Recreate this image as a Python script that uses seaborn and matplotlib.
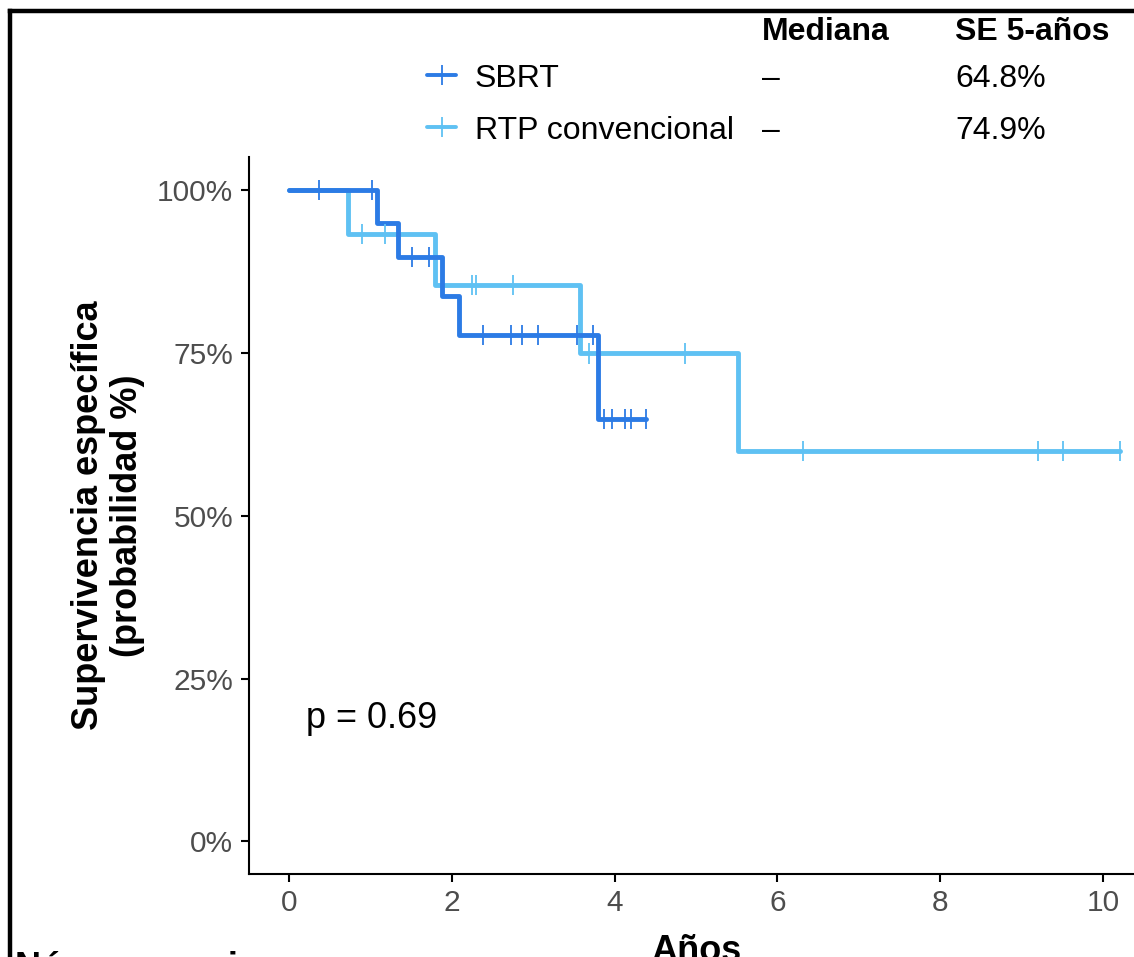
import numpy as np
import pandas as pd
import matplotlib
matplotlib.use('Agg')
import matplotlib.pyplot as plt
from matplotlib.lines import Line2D
import seaborn as sns

# Kaplan-Meier curves (time in years, survival in %)
groups = ['SBRT', 'RTP convencional']
colors = {'SBRT': '#2c7be5', 'RTP convencional': '#5fc1f3'}

sbrt_time = [0, 1.08, 1.34, 1.88, 2.09, 3.79, 4.38]
sbrt_surv = [100, 95.0, 89.7, 83.7, 77.8, 64.8, 64.8]
sbrt_cens = [0.37, 1.02, 1.51, 1.72, 2.38, 2.73, 2.86, 3.06, 3.54, 3.74,
             3.87, 3.97, 4.13, 4.20, 4.38]

rtp_time = [0, 0.72, 1.79, 3.58, 5.52, 10.21]
rtp_surv = [100, 93.3, 85.4, 74.9, 59.9, 59.9]
rtp_cens = [0.90, 1.18, 2.25, 2.30, 2.75, 3.68, 4.86, 6.32, 9.20, 9.51, 10.21]

medianas = ['–', '–']
se_5 = ['64.8%', '74.9%']
p_label = 'p = 0.69'
yticks = [0, 25, 50, 75, 100]
xticks = [0, 2, 4, 6, 8, 10]


def step_value(times, surv, t):
    idx = np.searchsorted(times, t, side='right') - 1
    return np.asarray(surv)[idx]


curves = pd.concat([
    pd.DataFrame({'time': sbrt_time, 'surv': sbrt_surv, 'group': 'SBRT'}),
    pd.DataFrame({'time': rtp_time, 'surv': rtp_surv, 'group': 'RTP convencional'}),
])
cens = pd.concat([
    pd.DataFrame({'time': sbrt_cens, 'surv': step_value(sbrt_time, sbrt_surv, sbrt_cens), 'group': 'SBRT'}),
    pd.DataFrame({'time': rtp_cens, 'surv': step_value(rtp_time, rtp_surv, rtp_cens), 'group': 'RTP convencional'}),
])

sns.set_style('white')
plt.rcParams['font.family'] = ['Liberation Sans', 'DejaVu Sans']
plt.rcParams['text.color'] = 'black'
plt.rcParams['axes.labelcolor'] = 'black'

W, H = 1134, 957
fig = plt.figure(figsize=(W / 100, H / 100), dpi=100)
ax = fig.add_axes([248.5 / W, (H - 874) / H, 895 / W, 716.6 / H])

draw_order = ['RTP convencional', 'SBRT']
sns.lineplot(data=curves, x='time', y='surv', hue='group', hue_order=draw_order,
             palette=colors, drawstyle='steps-post', linewidth=3.5,
             estimator=None, legend=False, ax=ax)
sns.scatterplot(data=cens, x='time', y='surv', hue='group', hue_order=draw_order,
                palette=colors, marker='|', s=210, linewidth=1.3,
                legend=False, ax=ax, zorder=3)

ax.set_xlim(-0.5, 10.5)
ax.set_ylim(-5, 105)
ax.set_xticks(xticks)
ax.set_yticks(yticks)
ax.set_yticklabels([f'{v}%' for v in yticks])
ax.tick_params(axis='both', labelsize=21.5, labelcolor='#4d4d4d', color='black',
               length=6, width=1.5, direction='out', left=True, bottom=True)
ax.tick_params(axis='x', pad=5)
ax.tick_params(axis='y', pad=5)
for side in ['top', 'right']:
    ax.spines[side].set_visible(False)
for side in ['left', 'bottom']:
    ax.spines[side].set_color('black')
    ax.spines[side].set_linewidth(1.5)

ax.set_ylabel('Supervivencia específica\n(probabilidad %)', fontsize=26,
              fontweight='bold', linespacing=1.15)
ax.yaxis.set_label_coords(-0.1156, 0.5)
ax.set_xlabel('Años', fontsize=26, fontweight='bold')
ax.xaxis.label.set_va('baseline')
ax.xaxis.set_label_coords(0.5, -0.1214)

ax.text(0.204, 18.8, p_label, ha='left', va='center', fontsize=26)

# legend table at the top
def fy(px):
    return (H - px) / H


fig.text(762 / W, fy(40), 'Mediana', fontsize=23, fontweight='bold', va='baseline')
fig.text(955 / W, fy(40), 'SE 5-años', fontsize=23, fontweight='bold', va='baseline')
for i, g in enumerate(groups):
    base = [87, 139][i]
    yk = fy(base - 12)
    fig.add_artist(Line2D([427 / W, 456 / W], [yk, yk], color=colors[g], lw=2.8,
                          transform=fig.transFigure))
    fig.add_artist(Line2D([441.5 / W], [yk], color=colors[g], marker='|', ms=15,
                          mew=1.3, transform=fig.transFigure))
    fig.text(475 / W, fy(base), g, fontsize=23, va='baseline')
    fig.text(762 / W, fy(base), medianas[i], fontsize=23, va='baseline')
    fig.text(955 / W, fy(base), se_5[i], fontsize=23, va='baseline')

fig.text(15 / W, fy(978), 'Número en riesgo', fontsize=26, fontweight='bold', va='baseline')

# outer frame of the original figure (only top and left edges are visible)
fig.add_artist(Line2D([10 / W, 1.05], [fy(10.5), fy(10.5)], color='black', lw=3.2,
                      transform=fig.transFigure, solid_capstyle='projecting'))
fig.add_artist(Line2D([10 / W, 10 / W], [-0.05, fy(10.5)], color='black', lw=3.2,
                      transform=fig.transFigure, solid_capstyle='projecting'))

fig.savefig('out.png', dpi=100)
